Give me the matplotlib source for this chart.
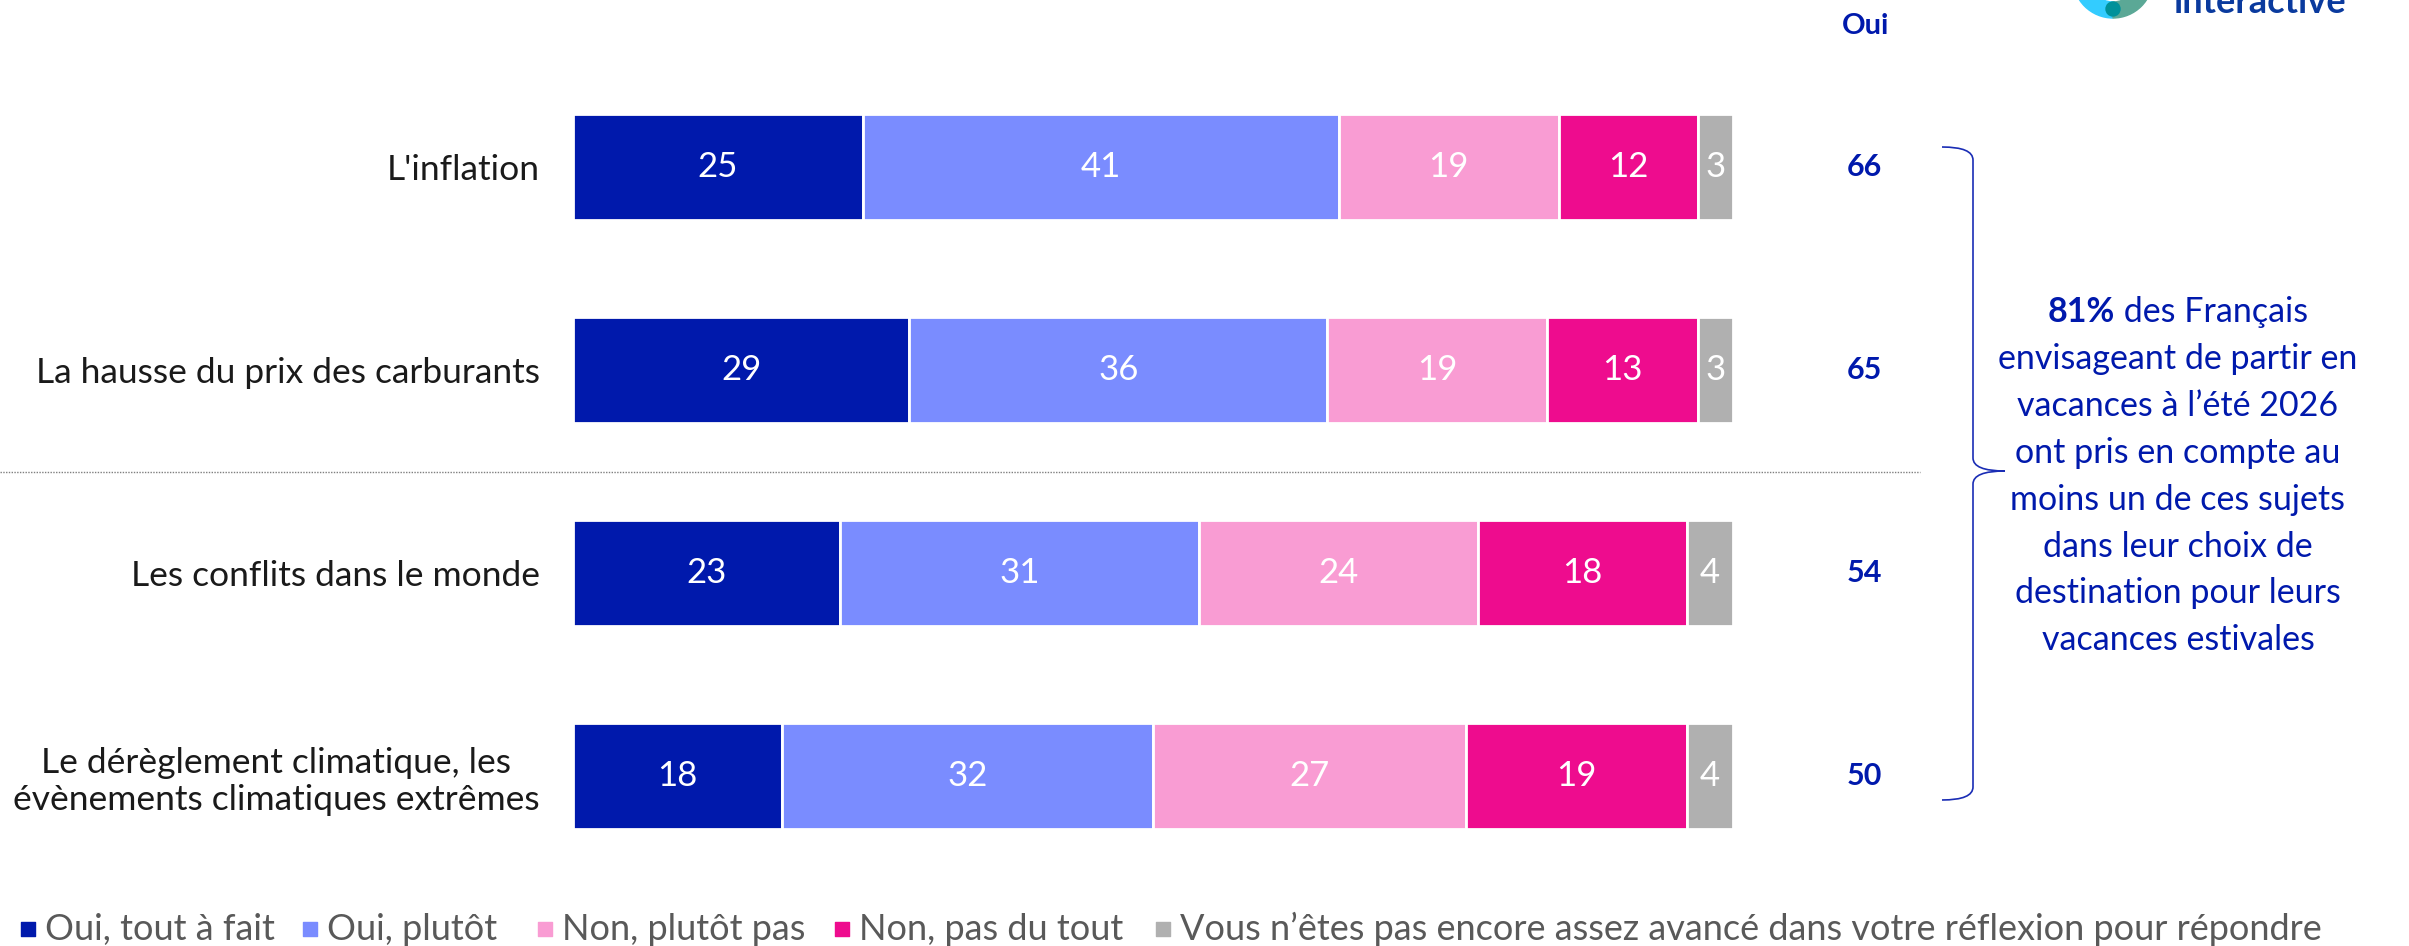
import matplotlib.pyplot as plt
import numpy as np
from matplotlib.path import Path
from matplotlib.patches import PathPatch, Wedge, Circle
import matplotlib.transforms as mtransforms

plt.rcParams['font.family'] = ['Lato', 'DejaVu Sans']

categories = ["L'inflation",
              "La hausse du prix des carburants",
              "Les conflits dans le monde",
              "Le dérèglement climatique, les\névènements climatiques extrêmes"]
series = ["Oui, tout à fait", "Oui, plutôt", "Non, plutôt pas", "Non, pas du tout",
          "Vous n’êtes pas encore assez avancé dans votre réflexion pour répondre"]
tout_a_fait = [25, 29, 23, 18]
plutot_oui = [41, 36, 31, 32]
plutot_pas = [19, 19, 24, 27]
pas_du_tout = [12, 13, 18, 19]
nsp = [3, 3, 4, 4]
oui_total = [66, 65, 54, 50]
colors = ["#0019AC", "#7A8CFF", "#F99CD3", "#EE0C8E", "#B0B0B0"]
blue = "#0019AC"

W, H = 2409, 946
fig = plt.figure(figsize=(W / 100, H / 100), dpi=100)

# overlay in pixel coords for annotations
ov = fig.add_axes([0, 0, 1, 1])
ov.set_xlim(0, W)
ov.set_ylim(H, 0)
ov.axis('off')

ax = fig.add_axes([573 / W, (H - 877.5) / H, 1160 / W, 812 / H])
ax.set_zorder(2)
ax.patch.set_visible(False)

y = np.arange(len(categories))
left = np.zeros(len(categories))
values = [tout_a_fait, plutot_oui, plutot_pas, pas_du_tout, nsp]
for vals, c, name in zip(values, colors, series):
    bars = ax.barh(y, vals, left=left, height=0.52, color=c, edgecolor='white',
                   linewidth=2, label=name)
    for b, v in zip(bars, vals):
        ax.text(b.get_x() + b.get_width() / 2, b.get_y() + b.get_height() / 2, str(v),
                ha='center', va='center', color='white', fontsize=25)
    left += np.array(vals)

ax.set_xlim(0, 100)
ax.set_ylim(3.5, -0.5)
ax.set_yticks(y)
ax.set_yticklabels(categories, fontsize=25.5, color='#1A1A1A')
for lab in ax.get_yticklabels():
    lab.set_multialignment('center')
ax.tick_params(axis='y', length=0, pad=24)
ax.set_xticks([])
for s in ax.spines.values():
    s.set_visible(False)

# "Oui" column
bt = mtransforms.blended_transform_factory(ov.transData, ax.transData)
ov.text(1866, 26, "Oui", ha='center', va='center', fontsize=21, fontweight='bold', color=blue)
for i, v in enumerate(oui_total):
    ax.text(1864, i, str(v), transform=bt, ha='center', va='center', fontsize=22,
            fontweight='bold', color=blue, clip_on=False)

# dotted separator
ax.plot([0, 1920], [1.5, 1.5], transform=bt, color='#7F7F7F', linestyle=(0, (1, 1)),
        linewidth=1, clip_on=False)

# brace
verts = [(1942, 147), (1973, 147), (1973, 160), (1973, 458), (1973, 471), (2005, 471),
         (2005, 471), (1973, 471), (1973, 484), (1973, 787), (1973, 800), (1942, 800)]
codes = [Path.MOVETO, Path.CURVE3, Path.CURVE3, Path.LINETO, Path.CURVE3, Path.CURVE3,
         Path.MOVETO, Path.CURVE3, Path.CURVE3, Path.LINETO, Path.CURVE3, Path.CURVE3]
ov.add_patch(PathPatch(Path(verts, codes), fill=False, edgecolor='#1A2DB5', linewidth=1.2))

# side text
lines = ["envisageant de partir en", "vacances à l’été 2026", "ont pris en compte au",
         "moins un de ces sujets", "dans leur choix de", "destination pour leurs",
         "vacances estivales"]
cx, y0, dy, fs = 2178, 312, 46.9, 24.5
r = fig.canvas.get_renderer()
t1 = ov.text(0, y0, "81%", fontsize=fs, fontweight='bold', color=blue, va='center')
t2 = ov.text(0, y0, " des Français", fontsize=fs, color=blue, va='center')
w1 = t1.get_window_extent(r).width
w2 = t2.get_window_extent(r).width
x0 = cx - (w1 + w2) / 2
t1.set_x(x0)
t2.set_x(x0 + w1)
for k, ln in enumerate(lines):
    ov.text(cx, y0 + (k + 1) * dy, ln, ha='center', va='center', fontsize=fs, color=blue)

# legend
leg_x = [28, 310, 545, 842, 1163]
for lx, c, name in zip(leg_x, colors, series):
    ov.scatter([lx], [929], marker='s', s=90, color=c, clip_on=False)
    ov.text(lx + 17, 929, name, ha='left', va='center', fontsize=26, color='#595959')

# logo (cropped at top)
ov.add_patch(Wedge((2113, -22), 40, 90, 270, width=16, color='#33CCFF', clip_on=True))
ov.add_patch(Wedge((2113, -22), 40, 270, 90, width=16, color='#5BA896', clip_on=True))
ov.add_patch(Circle((2113, 9), 7, color='#00919A'))
ov.text(2173, 13, "interactive", ha='left', va='baseline', fontsize=26, fontweight='bold',
        color='#0A3A9E')

fig.savefig("out.png", dpi=100)
